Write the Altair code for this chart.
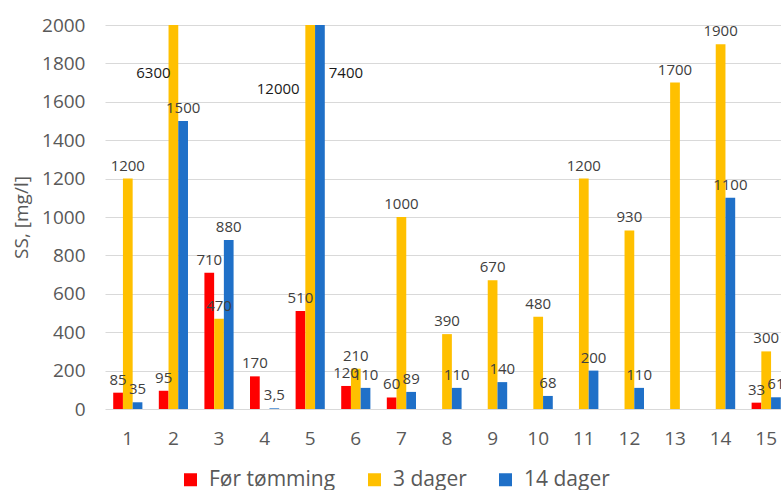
import altair as alt
import pandas as pd

categories = ["1", "2", "3", "4", "5", "6", "7", "8", "9", "10", "11", "12", "13", "14", "15"]
series_names = ["Før tømming", "3 dager", "14 dager"]
for_tomming = [85, 95, 710, 170, 510, 120, 60, None, None, None, None, None, None, None, 33]
tre_dager = [1200, 6300, 470, None, 12000, 210, 1000, 390, 670, 480, 1200, 930, 1700, 1900, 300]
fjorten_dager = [35, 1500, 880, 3.5, 7400, 110, 89, 110, 140, 68, 200, 110, None, 1100, 61]
colors = ["#FF0000", "#FFC000", "#1F70C8"]
y_ticks = [0, 200, 400, 600, 800, 1000, 1200, 1400, 1600, 1800, 2000]

rows = []
for name, vals in zip(series_names, [for_tomming, tre_dager, fjorten_dager]):
    for c, v in zip(categories, vals):
        if v is None:
            continue
        rows.append({"cat": c, "series": name, "value": v,
                     "label": f"{v:g}".replace(".", ",")})
df = pd.DataFrame(rows)

FONT = "Open Sans"
GREY = "#595959"

x = alt.X("cat:N", sort=categories,
          scale=alt.Scale(range=[0, 684], paddingInner=0.36, paddingOuter=0.18),
          axis=alt.Axis(title=None, labelAngle=0, labelFontSize=19, labelColor=GREY,
                        labelFont=FONT, labelPadding=20, ticks=False, domain=False, grid=False))
y = alt.Y("value:Q",
          scale=alt.Scale(domain=[0, 2000], clamp=True, nice=False),
          axis=alt.Axis(title="SS, [mg/l]", values=y_ticks, format="d", labelFontSize=19,
                        labelColor=GREY, labelFont=FONT, labelPadding=20, ticks=False,
                        domain=False, gridColor="#D9D9D9", titleFontSize=19, titleColor=GREY,
                        titleFont=FONT, titleFontWeight="normal", titlePadding=10))
xoff = alt.XOffset("series:N", sort=series_names,
                   scale=alt.Scale(paddingInner=0, paddingOuter=0))
color = alt.Color("series:N", sort=series_names,
                  scale=alt.Scale(domain=series_names, range=colors),
                  legend=alt.Legend(title=None, orient="none", legendX=75, legendY=444,
                                    direction="horizontal", symbolType="square",
                                    symbolSize=169, symbolStrokeWidth=0,
                                    labelFontSize=21, labelColor=GREY, labelFont=FONT,
                                    columnPadding=28, labelOffset=8))

base = alt.Chart(df)
bars = base.mark_bar().encode(x=x, y=y, xOffset=xoff, color=color)
labels = base.mark_text(baseline="alphabetic", dy=-8, fontSize=15, color="#404040", font=FONT).encode(
    x=x, y=y, xOffset=xoff, text="label:N").transform_filter("datum.value <= 2000")

def clipped(cat, series, dx, dy):
    return base.mark_text(baseline="middle", dx=dx, dy=dy, fontSize=15, color="#1a1a1a", font=FONT).encode(
        x=x, y=y, xOffset=xoff, text="label:N").transform_filter(
        f"datum.value > 2000 && datum.cat == '{cat}' && datum.series == '{series}'")

chart = alt.layer(
    bars, labels,
    clipped("2", "3 dager", -20, 48),
    clipped("5", "3 dager", -32, 64),
    clipped("5", "14 dager", 26, 48),
).properties(
    width=676, height=384,
    padding={"left": 105, "top": 25, "right": 0, "bottom": 81},
    autosize=alt.AutoSizeParams(type="none"),
).configure_view(stroke="transparent")

chart.save("out.html", embed_options={"renderer": "svg", "actions": False})
